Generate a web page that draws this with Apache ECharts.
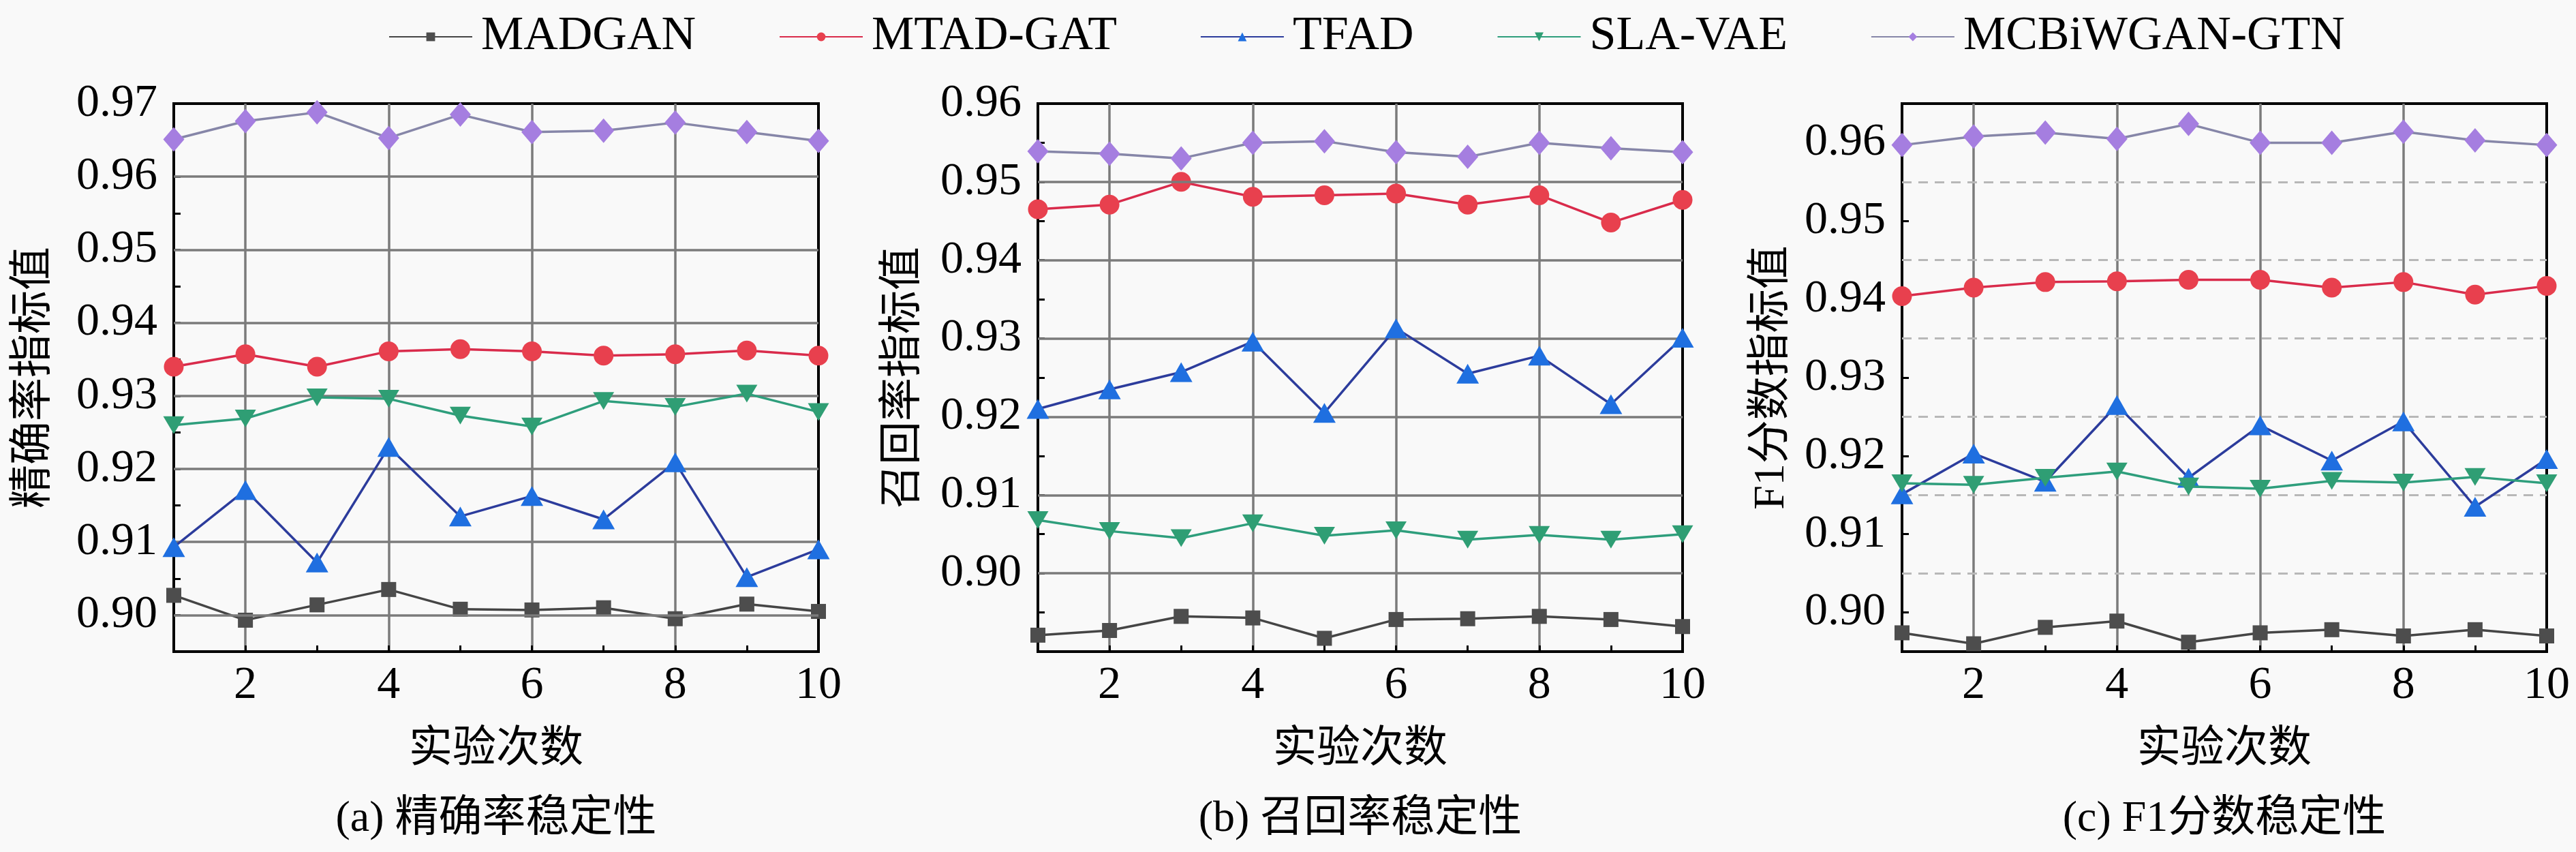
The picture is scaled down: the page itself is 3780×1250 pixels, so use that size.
<!DOCTYPE html>
<html>
<head>
<meta charset="utf-8">
<script src="https://cdn.jsdelivr.net/npm/echarts@6/dist/echarts.min.js"></script>
<style>
  html, body { margin: 0; padding: 0; background: #f9f9f9; }
  #main { width: 3780px; height: 1250px; }
</style>
</head>
<body>
<div id="main"></div>
<script>
// run index (x axis)
const runs = ['1', '2', '3', '4', '5', '6', '7', '8', '9', '10'];
const models = ['MADGAN', 'MTAD-GAT', 'TFAD', 'SLA-VAE', 'MCBiWGAN-GTN'];

// (a) precision
const precMADGAN = [0.9027, 0.8993, 0.9014, 0.9035, 0.9008, 0.9007, 0.9010, 0.8995, 0.9015, 0.9005];
const precMTADGAT = [0.9340, 0.9357, 0.9340, 0.9361, 0.9364, 0.9361, 0.9355, 0.9357, 0.9362, 0.9355];
const precTFAD = [0.9093, 0.9171, 0.9072, 0.9230, 0.9135, 0.9163, 0.9131, 0.9209, 0.9052, 0.9090];
const precSLAVAE = [0.9260, 0.9269, 0.9298, 0.9296, 0.9273, 0.9258, 0.9293, 0.9285, 0.9303, 0.9278];
const precOurs = [0.9651, 0.9676, 0.9688, 0.9653, 0.9685, 0.9661, 0.9663, 0.9674, 0.9661, 0.9649];

// (b) recall
const recMADGAN = [0.8921, 0.8927, 0.8945, 0.8943, 0.8917, 0.8941, 0.8942, 0.8945, 0.8941, 0.8932];
const recMTADGAT = [0.9465, 0.9471, 0.9500, 0.9481, 0.9483, 0.9485, 0.9471, 0.9483, 0.9448, 0.9477];
const recTFAD = [0.9210, 0.9235, 0.9257, 0.9296, 0.9205, 0.9313, 0.9255, 0.9278, 0.9216, 0.9301];
const recSLAVAE = [0.9068, 0.9054, 0.9045, 0.9064, 0.9048, 0.9055, 0.9043, 0.9049, 0.9043, 0.9050];
const recOurs = [0.9539, 0.9536, 0.9530, 0.9550, 0.9552, 0.9538, 0.9532, 0.9550, 0.9543, 0.9538];

// (c) F1
const f1MADGAN = [0.8974, 0.8960, 0.8981, 0.8989, 0.8962, 0.8974, 0.8978, 0.8970, 0.8978, 0.8970];
const f1MTADGAT = [0.9404, 0.9415, 0.9422, 0.9423, 0.9425, 0.9425, 0.9415, 0.9422, 0.9406, 0.9417];
const f1TFAD = [0.9151, 0.9203, 0.9167, 0.9265, 0.9172, 0.9239, 0.9194, 0.9244, 0.9135, 0.9196];
const f1SLAVAE = [0.9165, 0.9163, 0.9172, 0.9180, 0.9161, 0.9158, 0.9168, 0.9166, 0.9173, 0.9165];
const f1Ours = [0.9597, 0.9608, 0.9613, 0.9605, 0.9624, 0.9600, 0.9600, 0.9614, 0.9603, 0.9597];

// axis ranges and grid lines
const yMin = [0.895, 0.89, 0.895];
const yMax = [0.97, 0.96, 0.965];
const majorA = [0.90, 0.91, 0.92, 0.93, 0.94, 0.95, 0.96];
const majorB = [0.90, 0.91, 0.92, 0.93, 0.94, 0.95];
const dashedC = [0.905, 0.915, 0.925, 0.935, 0.945, 0.955];

const yNames = ['精确率指标值', '召回率指标值', 'F1分数指标值'];
const captions = ['(a) 精确率稳定性', '(b) 召回率稳定性', '(c) F1分数稳定性'];

const panelData = [
    [precMADGAN, precMTADGAT, precTFAD, precSLAVAE, precOurs],
    [recMADGAN, recMTADGAT, recTFAD, recSLAVAE, recOurs],
    [f1MADGAN, f1MTADGAT, f1TFAD, f1SLAVAE, f1Ours]
];

const styles = [
    { line: '#454545', fill: '#4d4d4d', symbol: 'rect', size: 22, rotate: 0 },
    { line: '#d92b4b', fill: '#e8404e', symbol: 'circle', size: 29, rotate: 0 },
    { line: '#2c3c9c', fill: '#1f6fe0', symbol: 'triangle', size: [33, 29], rotate: 0 },
    { line: '#2e9e7c', fill: '#2f9e74', symbol: 'triangle', size: [31, 26], rotate: 180 },
    { line: '#8686a8', fill: '#a57ee0', symbol: 'diamond', size: [31, 36], rotate: 0 }
];

const serif = "'Liberation Serif', 'Noto Sans CJK SC', serif";
const gridLeft = [255, 1523, 2791];
const gridW = 946;
const gridTop = 152;
const gridH = 804;
const nameGaps = [173, 165, 159];

let grids = [], xAxes = [], yAxes = [], series = [], graphics = [];

for (let p = 0; p < 3; p++) {
    grids.push({
        left: gridLeft[p], top: gridTop, width: gridW, height: gridH,
        show: true, borderColor: '#000', borderWidth: 4, backgroundColor: 'transparent'
    });
    xAxes.push({
        type: 'category', gridIndex: p, data: runs, boundaryGap: false,
        name: '实验次数', nameLocation: 'middle', nameGap: 112,
        nameTextStyle: { fontFamily: serif, fontSize: 64, color: '#000' },
        axisLine: { lineStyle: { color: '#000', width: 4 } },
        axisTick: { inside: true, length: 9, interval: 0, lineStyle: { color: '#000', width: 3 } },
        axisLabel: {
            interval: (i, v) => (i + 1) % 2 === 0,
            fontFamily: serif, fontSize: 68, color: '#000', margin: 16
        },
        splitLine: {
            show: true,
            interval: (i, v) => (i + 1) % 2 === 0 && i < 9,
            lineStyle: { color: '#7b7b7b', width: 3.5 }
        }
    });
    yAxes.push({
        type: 'value', gridIndex: p, min: yMin[p], max: yMax[p], interval: 0.005,
        name: yNames[p], nameLocation: 'middle', nameGap: nameGaps[p],
        nameTextStyle: { fontFamily: serif, fontSize: 64, color: '#000' },
        axisLine: { show: true, lineStyle: { color: '#000', width: 4 } },
        axisTick: { show: true, inside: true, length: 10, lineStyle: { color: '#000', width: 3 } },
        axisLabel: {
            fontFamily: serif, fontSize: 68, color: '#000', margin: 24,
            formatter: function (v) {
                const h = v * 100;
                if (Math.abs(h - Math.round(h)) > 1e-6) return '';
                if (Math.abs(v - yMin[p]) < 1e-9) return '';
                return v.toFixed(2);
            }
        },
        splitLine: { show: false }
    });

    // grid lines drawn through the y scale
    const hLines = p === 2 ? dashedC : (p === 0 ? majorA : majorB);
    series.push({
        type: 'line', xAxisIndex: p, yAxisIndex: p, data: [], silent: true, z: 1,
        markLine: {
            silent: true, symbol: 'none', label: { show: false }, animation: false, precision: 4,
            lineStyle: p === 2
                ? { color: '#b8b8b8', width: 3, type: [14, 10] }
                : { color: '#7b7b7b', width: 3.5, type: 'solid' },
            data: hLines.map(v => ({ yAxis: v }))
        }
    });

    panelData[p].forEach((vals, k) => {
        const s = styles[k];
        series.push({
            name: models[k], type: 'line', xAxisIndex: p, yAxisIndex: p, z: 3 + k,
            data: vals, clip: false,
            symbol: s.symbol, symbolSize: s.size, symbolRotate: s.rotate, showAllSymbol: true,
            lineStyle: { color: s.line, width: 3.5 },
            itemStyle: { color: s.fill, borderWidth: 0 },
            emphasis: { disabled: true }
        });
    });

    graphics.push({
        type: 'text', x: gridLeft[p] + gridW / 2, y: 1202,
        style: {
            text: captions[p], textAlign: 'center', textVerticalAlign: 'middle',
            font: '64px ' + serif, fill: '#000'
        }
    });
}

const option = {
    backgroundColor: '#f9f9f9',
    animation: false,
    legend: {
        data: models, left: 565, top: 14, itemGap: 122, itemWidth: 122, itemHeight: 16,
        textStyle: { fontFamily: serif, fontSize: 70, color: '#000', padding: [0, 0, 0, 8] }
    },
    grid: grids,
    xAxis: xAxes,
    yAxis: yAxes,
    series: series,
    graphic: graphics
};

let plot = echarts.init(document.querySelector('#main'));
plot.setOption(option);
</script>
</body>
</html>
